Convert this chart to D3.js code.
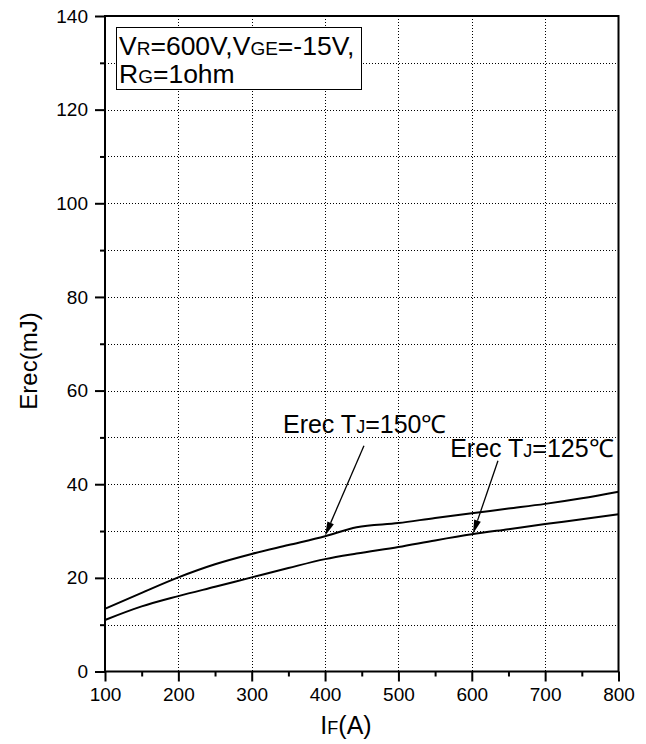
<!DOCTYPE html>
<html>
<head>
<meta charset="utf-8">
<script src="https://cdn.jsdelivr.net/npm/d3@7/dist/d3.min.js"></script>
<style>
  html, body { margin: 0; padding: 0; background: #fff; }
  svg { display: block; }
  text { font-family: "Liberation Sans", Arial, Helvetica, sans-serif; fill: #000; }
</style>
</head>
<body>
<svg id="chart" width="646" height="744"></svg>
<script>
// Reverse recovery energy vs forward current, two junction temperatures
const currentA = [100, 150, 200, 250, 300, 350, 400, 443, 500, 550, 600, 650, 700, 750, 800];
const erec150 = [13.4, 16.8, 20.1, 22.9, 25.1, 27.0, 28.9, 30.8, 31.7, 32.8, 33.8, 34.8, 35.8, 37.0, 38.4];
const erec125 = [11.0, 13.9, 16.1, 18.1, 20.1, 22.1, 24.0, 25.2, 26.6, 28.0, 29.3, 30.4, 31.5, 32.5, 33.6];

const xMajorTicks = [100, 200, 300, 400, 500, 600, 700, 800];
const xMinorTicks = [150, 250, 350, 450, 550, 650, 750];
const yMajorTicks = [0, 20, 40, 60, 80, 100, 120, 140];
const yMinorTicks = [10, 30, 50, 70, 90, 110, 130];
const xGrid = [200, 300, 400, 500, 600, 700];
const yGrid = [10, 20, 30, 40, 50, 60, 70, 80, 90, 100, 110, 120, 130];

// Callouts: label anchor, arrow tail and arrow tip in data units
const callouts = [
  { main: "Erec T", sub: "J", rest: "=150\u2103", label: [342.6, 50.9], tail: [453, 48.2], tip: [400, 29.0] },
  { main: "Erec T", sub: "J", rest: "=125\u2103", label: [570.5, 45.8], tail: [635.7, 45.0], tip: [601.6, 29.4] }
];

const svg = d3.select("#chart");
const plotL = 105, plotR = 618.5, plotT = 16, plotB = 671.5;

const x = d3.scaleLinear().domain([100, 800]).range([plotL, plotR]);
const y = d3.scaleLinear().domain([0, 140]).range([plotB, plotT]);

svg.append("rect").attr("width", 646).attr("height", 744).attr("fill", "#fff");

// dotted grid
const grid = svg.append("g").attr("class", "grid");
xGrid.forEach(v => {
  const px = Math.round(x(v)) + 0.5;
  grid.append("path").attr("d", `M${px},${plotT}V${plotB}`);
});
yGrid.forEach(v => {
  const py = Math.round(y(v)) + 0.5;
  grid.append("path").attr("d", `M${plotL},${py}H${plotR}`);
});
grid.selectAll("path")
  .attr("fill", "none").attr("stroke", "#000").attr("stroke-width", 1)
  .attr("stroke-dasharray", "1,2");

// axes
const xAxis = d3.axisBottom(x).tickValues(xMajorTicks).tickSize(10).tickPadding(6).tickFormat(d3.format("d"));
const xAxisMinor = d3.axisBottom(x).tickValues(xMinorTicks).tickSize(5).tickFormat("");
const yAxis = d3.axisLeft(y).tickValues(yMajorTicks).tickSize(10).tickPadding(7).tickFormat(d3.format("d"));
const yAxisMinor = d3.axisLeft(y).tickValues(yMinorTicks).tickSize(5).tickFormat("");

function styleAxis(g) {
  g.select(".domain").remove();
  g.selectAll(".tick line").attr("stroke", "#000").attr("stroke-width", 2);
  g.selectAll(".tick text").attr("font-size", 19).attr("font-family", "Liberation Sans, Arial, sans-serif").attr("fill", "#000");
}
svg.append("g").attr("transform", `translate(0,${plotB})`).call(xAxis).call(styleAxis);
svg.append("g").attr("transform", `translate(0,${plotB})`).call(xAxisMinor).call(styleAxis);
svg.append("g").attr("transform", `translate(${plotL},0)`).call(yAxis).call(styleAxis);
svg.append("g").attr("transform", `translate(${plotL},0)`).call(yAxisMinor).call(styleAxis);

// frame
svg.append("rect").attr("x", plotL).attr("y", plotT).attr("width", plotR - plotL).attr("height", plotB - plotT)
  .attr("fill", "none").attr("stroke", "#000").attr("stroke-width", 2);

// curves
const line = d3.line().x((d, i) => x(currentA[i])).y(d => y(d)).curve(d3.curveMonotoneX);
[erec150, erec125].forEach(s => {
  svg.append("path").datum(s).attr("d", line).attr("fill", "none")
    .attr("stroke", "#000").attr("stroke-width", 2);
});

// callouts with arrows
callouts.forEach(c => {
  const t = svg.append("text").attr("x", x(c.label[0])).attr("y", y(c.label[1])).attr("font-size", 25);
  t.append("tspan").text(c.main);
  t.append("tspan").attr("font-size", 18).text(c.sub);
  t.append("tspan").text(c.rest);

  const x0 = x(c.tail[0]), y0 = y(c.tail[1]), x1 = x(c.tip[0]), y1 = y(c.tip[1]);
  const ang = Math.atan2(y1 - y0, x1 - x0);
  const len = 14, half = 3.5;
  const bx = x1 - len * Math.cos(ang), by = y1 - len * Math.sin(ang);
  svg.append("line").attr("x1", x0).attr("y1", y0).attr("x2", bx).attr("y2", by)
    .attr("stroke", "#000").attr("stroke-width", 1.3);
  const px = -Math.sin(ang) * half, py = Math.cos(ang) * half;
  svg.append("polygon")
    .attr("points", `${x1},${y1} ${bx + px},${by + py} ${bx - px},${by - py}`)
    .attr("fill", "#000");
});

// condition box
svg.append("rect").attr("x", 116.5).attr("y", 27.5).attr("width", 245).attr("height", 62)
  .attr("fill", "#fff").attr("stroke", "#000").attr("stroke-width", 1);
const l1 = svg.append("text").attr("x", 119).attr("y", 55).attr("font-size", 26.5);
l1.append("tspan").text("V");
l1.append("tspan").attr("font-size", 19).text("R");
l1.append("tspan").text("=600V,V");
l1.append("tspan").attr("font-size", 19).text("GE");
l1.append("tspan").text("=-15V,");
const l2 = svg.append("text").attr("x", 119).attr("y", 83).attr("font-size", 26.5);
l2.append("tspan").text("R");
l2.append("tspan").attr("font-size", 19).text("G");
l2.append("tspan").text("=1ohm");

// axis titles
const xt = svg.append("text").attr("x", 346).attr("y", 734).attr("text-anchor", "middle").attr("font-size", 25);
xt.append("tspan").text("I");
xt.append("tspan").attr("font-size", 18).text("F");
xt.append("tspan").text("(A)");
svg.append("text").attr("transform", "translate(37,361) rotate(-90)").attr("text-anchor", "middle")
  .attr("font-size", 24).text("Erec(mJ)");
</script>
</body>
</html>
